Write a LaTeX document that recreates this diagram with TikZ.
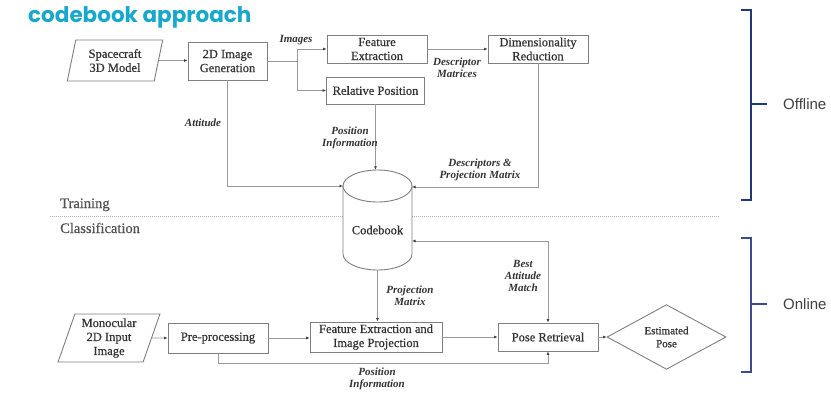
\documentclass[tikz,border=0pt]{standalone}
\usepackage{fontspec}
\setmainfont{Liberation Serif}
\newfontfamily\boxfont{Liberation Serif}[FakeBold=0.6]
\newfontfamily\arialfont{Liberation Sans}
\newfontfamily\popfont{Poppins}
\usetikzlibrary{arrows.meta,shapes.geometric}
\definecolor{boxline}{HTML}{7F7F7F}
\definecolor{connc}{HTML}{9A9A9A}
\definecolor{txt}{HTML}{333333}
\definecolor{titlec}{HTML}{1AA7CC}
\definecolor{navyA}{HTML}{1F3A78}
\definecolor{navyB}{HTML}{3D4B8C}
\begin{document}
\begin{tikzpicture}[x=1pt,y=-1pt,
  box/.style={draw=boxline, line width=0.9pt, fill=white, text=txt,
    font=\boxfont\fontsize{12.5}{14}\selectfont, align=center, inner sep=0pt},
  para/.style={trapezium, trapezium stretches=true, draw=boxline, line width=0.9pt,
    fill=white, text=txt, font=\boxfont\fontsize{12.5}{14}\selectfont, align=center, inner sep=0pt},
  conn/.style={draw=connc, line width=0.8pt},
  arr/.style={conn, -{Latex[length=3.5pt,width=3pt,color=black!75]}},
  arrb/.style={conn, {Latex[length=3.5pt,width=3pt,color=black!75]}-{Latex[length=3.5pt,width=3pt,color=black!75]}},
  lbl/.style={text=txt, font=\fontsize{11}{12}\selectfont\itshape\bfseries, align=center, inner sep=0pt},
  sect/.style={anchor=base west, inner sep=0pt, text=black!68, font=\boxfont\fontsize{14.5}{16}\selectfont},
  brk/.style={line width=1.1pt},
]
\useasboundingbox (0,0) rectangle (831,392);

% title
\node[anchor=base west, inner sep=0pt, text=titlec, font=\popfont\bfseries\fontsize{21.5}{24}\selectfont] (title) at (28,22) {codebook approach};

% separator
\draw[gray!60, line width=0.6pt, dash pattern=on 1pt off 1pt] (50,216) -- (720,216);
\node[sect] (train) at (60,208) {Training};
\node[sect] (classif) at (60,233) {Classification};

% offline nodes
\node[para, trapezium left angle=76, trapezium right angle=104, minimum width=96, minimum height=41] (sc) at (115,60.5) {Spacecraft\\3D Model};
\node[box, minimum width=79, minimum height=38] (gen) at (227.5,61) {2D Image\\Generation};
\node[box, minimum width=100, minimum height=28] (fe) at (377,49) {Feature\\Extraction};
\node[box, minimum width=98, minimum height=27] (rp) at (375.5,90.5) {Relative Position};
\node[box, minimum width=100, minimum height=28] (dr) at (538,49) {Dimensionality\\Reduction};

% codebook cylinder
\fill[white] (343,186) -- (343,254) .. controls (343,262.8) and (358.4,270) .. (377.5,270)
  .. controls (396.6,270) and (412,262.8) .. (412,254) -- (412,186) -- cycle;
\draw[boxline, line width=0.9pt] (343,186) -- (343,254) .. controls (343,262.8) and (358.4,270) .. (377.5,270)
  .. controls (396.6,270) and (412,262.8) .. (412,254) -- (412,186);
\draw[boxline, line width=0.9pt, fill=white] (377.5,186) ellipse [x radius=34.5, y radius=16];
\node[inner sep=0pt, minimum width=69, minimum height=100] (cb) at (377.5,220) {};
\node[text=txt, font=\boxfont\fontsize{12.5}{14}\selectfont, inner sep=0pt] (cbt) at (377.5,230) {Codebook};
\coordinate (cbL) at (343,186);
\coordinate (cbR) at (412,187);
\coordinate (cbR2) at (412,241);

% online nodes
\node[para, trapezium left angle=71, trapezium right angle=109, minimum width=102, minimum height=48] (mono) at (109,338) {Monocular\\2D Input\\Image};
\node[box, minimum width=100, minimum height=30] (pre) at (218,338) {Pre-processing};
\node[box, minimum width=132, minimum height=30] (feip) at (376,337) {Feature Extraction and\\Image Projection};
\node[box, minimum width=100, minimum height=28] (pr) at (548,337) {Pose Retrieval};
\node[diamond, draw=boxline, line width=0.9pt, text=txt, font=\boxfont\fontsize{11}{13}\selectfont, align=center,
  minimum width=119, minimum height=60, inner sep=0pt] (est) at (666.5,337) {Estimated\\Pose};

% offline connectors
\draw[arr] (sc.east) -- (sc.east -| gen.west);
\coordinate (br) at (297,61);
\draw[conn] (gen.east) -- (br);
\draw[arr] (br) |- (fe.west);
\draw[arr] (br) |- (rp.west);
\draw[arr] (fe.east) -- (dr.west);
\draw[arr] (dr.south) |- (cbR);
\draw[arr] (gen.south) |- (cbL);
\draw[arr] (rp.south) -- (rp.south |- cb.north);

% online connectors
\draw[arr] (cb.south) -- (cb.south |- feip.north);
\draw[arr] (mono.east) -- (pre.west);
\draw[arr] (pre.east) -- (pre.east -| feip.west);
\draw[arr] (feip.east) -- (feip.east -| pr.west);
\draw[arr] (pr.east) -- (est.west);
\draw[arrb] (pr.north) |- (cbR2);
\draw[arr] (pre.south) -- ++(0,10) -| (pr.south);

% labels
\node[lbl] (lImages) at (296,40) {Images};
\node[lbl] (lDesc) at (457,68) {Descriptor\\Matrices};
\node[lbl] (lAtt) at (203,123) {Attitude};
\node[lbl] (lPos1) at (350,138) {Position\\Information};
\node[lbl] (lDP) at (480,170) {Descriptors \&\\Projection Matrix};
\node[lbl] (lPM) at (410,296) {Projection\\Matrix};
\node[lbl] (lBest) at (523,276) {Best\\Attitude\\Match};
\node[lbl] (lPos2) at (377,379) {Position\\Information};

% brackets
\draw[navyA, brk] (741,10) -- (751,10) -- (751,200) -- (741,200);
\draw[navyA, brk] (751,104) -- (767,104);
\node[anchor=west, inner sep=0pt, text=black!75, font=\arialfont\fontsize{15}{17}\selectfont] (off) at (783,104) {Offline};
\draw[navyB, brk] (741,238) -- (751,238) -- (751,372) -- (741,372);
\draw[navyB, brk] (751,304) -- (767,304);
\node[anchor=west, inner sep=0pt, text=black!75, font=\arialfont\fontsize{15}{17}\selectfont] (on) at (783,304) {Online};
\end{tikzpicture}
\end{document}
